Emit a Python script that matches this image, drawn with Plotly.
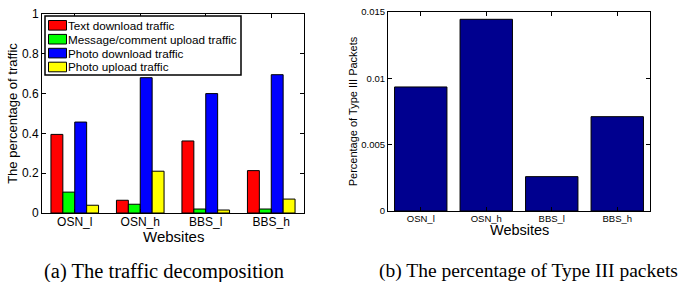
import plotly.graph_objects as go

W, H = 682, 282

# ---- data ----
websites = ["OSN_l", "OSN_h", "BBS_l", "BBS_h"]
text_download = [0.395, 0.064, 0.362, 0.213]
msg_upload = [0.105, 0.044, 0.020, 0.020]
photo_download = [0.457, 0.680, 0.600, 0.695]
photo_upload = [0.039, 0.210, 0.015, 0.070]
type3_pct = [0.00935, 0.01445, 0.00259, 0.00711]

series_names = ["Text download traffic", "Message/comment upload traffic",
                "Photo download traffic", "Photo upload traffic"]
series_vals = [text_download, msg_upload, photo_download, photo_upload]
series_colors = ["#FF0000", "#00FF00", "#0000FF", "#FFFF00"]

left_yticks = [0, 0.2, 0.4, 0.6, 0.8, 1]
left_yticktext = ["0", "0.2", "0.4", "0.6", "0.8", "1"]
right_yticks = [0, 0.005, 0.01, 0.015]
right_yticktext = ["0", "0.005", "0.01", "0.015"]

xpos = [1, 2, 3, 4]
SANS = "Liberation Sans, Arial, sans-serif"
SERIF = "Liberation Serif, Times New Roman, serif"


def fx(p):
    return p / W


def fy(p):
    return 1 - p / H


fig = go.Figure()
for name, vals, col in zip(series_names, series_vals, series_colors):
    fig.add_trace(go.Bar(x=xpos, y=vals, name=name,
                         marker=dict(color=col, line=dict(color="black", width=1)),
                         xaxis="x", yaxis="y", offsetgroup=name, showlegend=False))

fig.add_trace(go.Bar(x=xpos, y=type3_pct, name="Type III", showlegend=False,
                     marker=dict(color="#00008F", line=dict(color="black", width=1)),
                     width=0.8, xaxis="x2", yaxis="y2"))

axis_common = dict(showline=True, linecolor="black", linewidth=1, mirror="ticks",
                   ticks="inside", ticklen=4, tickcolor="black", showgrid=False,
                   zeroline=False, automargin=False)

# ---- legend (boxed key in the top-left of panel a) ----
shapes = [dict(type="rect", xref="paper", yref="paper", x0=fx(45), x1=fx(241), y0=fy(75), y1=fy(16),
               line=dict(color="black", width=1.5), fillcolor="white", layer="above")]
annotations = []
row_top, row_step = 25.3, 13.9
for i, (name, col) in enumerate(zip(series_names, series_colors)):
    cy = row_top + i * row_step
    shapes.append(dict(type="rect", xref="paper", yref="paper", x0=fx(48.5), x1=fx(66.5),
                       y0=fy(cy + 4.8), y1=fy(cy - 4.8), line=dict(color="black", width=1),
                       fillcolor=col, layer="above"))
    annotations.append(dict(text=name, x=fx(67), y=fy(cy), xref="paper", yref="paper",
                            showarrow=False, xanchor="left", yanchor="middle",
                            font=dict(family=SANS, size=11.7), borderpad=0))

annotations += [
    dict(text="Websites", x=fx(173), y=fy(236), xref="paper", yref="paper", showarrow=False,
         xanchor="center", yanchor="middle", font=dict(family=SANS, size=15)),
    dict(text="Websites", x=fx(519), y=fy(230), xref="paper", yref="paper", showarrow=False,
         xanchor="center", yanchor="middle", font=dict(family=SANS, size=14.5)),
    dict(text="(a) The traffic decomposition", x=fx(164), y=fy(271), xref="paper", yref="paper",
         showarrow=False, font=dict(family=SERIF, size=20.5), xanchor="center", yanchor="middle"),
    dict(text="(b) The percentage of Type III packets", x=fx(528.5), y=fy(271), xref="paper", yref="paper",
         showarrow=False, font=dict(family=SERIF, size=19.5), xanchor="center", yanchor="middle"),
]

fig.update_layout(
    width=W, height=H,
    margin=dict(l=0, r=0, t=0, b=0, pad=0, autoexpand=False),
    paper_bgcolor="white", plot_bgcolor="white",
    barmode="group", bargap=0.273, bargroupgap=0,
    showlegend=False,
    font=dict(family=SANS, color="black"),
    xaxis=dict(domain=[fx(42), fx(304)], range=[0.5, 4.5], tickvals=xpos, ticktext=websites,
               tickfont=dict(size=12), anchor="y", ticklabelstandoff=-2, **axis_common),
    yaxis=dict(domain=[fy(213), fy(14)], range=[0, 1], tickvals=left_yticks, ticktext=left_yticktext,
               tickfont=dict(size=12), anchor="x",
               title=dict(text="The percentage of traffic", font=dict(size=13), standoff=1), **axis_common),
    xaxis2=dict(domain=[fx(388), fx(650)], range=[0.5, 4.5], tickvals=xpos, ticktext=websites,
                tickfont=dict(size=9.5), anchor="y2", ticklabelstandoff=-1, **axis_common),
    yaxis2=dict(domain=[fy(211), fy(12)], range=[0, 0.015], tickvals=right_yticks, ticktext=right_yticktext,
                tickfont=dict(size=9.5), anchor="x2",
                title=dict(text="Percentage of Type III Packets", font=dict(size=11), standoff=1), **axis_common),
    shapes=shapes,
    annotations=annotations,
)

fig.write_html("out.html", config={"displayModeBar": False},
               post_script="document.body.style.margin='0';document.body.style.overflow='hidden';")
